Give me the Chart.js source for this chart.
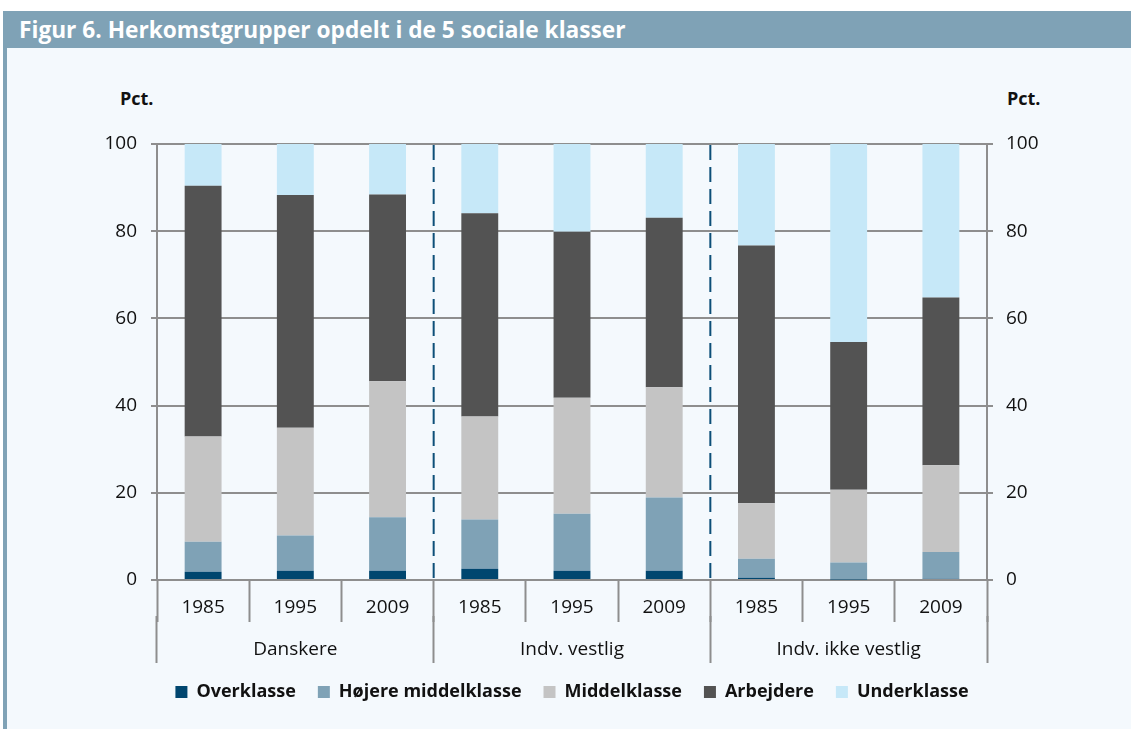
<!DOCTYPE html>
<html>
<head>
<meta charset="utf-8">
<script src="https://cdn.jsdelivr.net/npm/chart.js@4.4.1/dist/chart.umd.min.js"></script>
<style>
    body { margin: 0; background: #ffffff; font-family: "Open Sans", sans-serif; }
    .title-bar {
        position: absolute; left: 3px; top: 11px; right: 0; height: 37px;
        background: #7fa2b6; color: #ffffff; font-weight: bold; font-size: 22.7px;
        line-height: 37px; padding-left: 16px; box-sizing: border-box; white-space: nowrap;
    }
    .panel {
        position: absolute; left: 3px; top: 48px; right: 0; bottom: 0;
        background: #f4f9fd; border-left: 4px solid #7fa2b6;
    }
    .chart-box { position: absolute; left: 7px; top: 48px; width: 1124px; height: 681px; }
    .unit { position: absolute; top: 86px; font-weight: bold; font-size: 18px; color: #111; }
</style>
</head>
<body>
<div class="title-bar">Figur 6. Herkomstgrupper opdelt i de 5 sociale klasser</div>
<div class="panel"></div>
<div class="unit" style="left:120px">Pct.</div>
<div class="unit" style="left:1007px">Pct.</div>
<div class="chart-box"><canvas id="klasseChart"></canvas></div>

<script>
// Data (pct.)
const years = ['1985', '1995', '2009', '1985', '1995', '2009', '1985', '1995', '2009'];
const groups = ['Danskere', 'Indv. vestlig', 'Indv. ikke vestlig'];
const yTicks = [0, 20, 40, 60, 80, 100];

const overklasse = [1.9, 2.1, 2.1, 2.6, 2.1, 2.1, 0.5, 0.1, 0.3];
const hojereMiddel = [6.9, 8.1, 12.3, 11.3, 13.1, 16.8, 4.4, 3.9, 6.1];
const middelklasse = [24.1, 24.7, 31.2, 23.6, 26.6, 25.3, 12.7, 16.7, 19.9];
const arbejdere = [57.5, 53.4, 42.8, 46.6, 38.1, 38.9, 59.1, 33.9, 38.5];
const underklasse = [9.6, 11.7, 11.6, 15.9, 20.1, 16.9, 23.3, 45.4, 35.2];

const gridGrey = '#8e8e8e';
const tickFont = { family: 'Open Sans', size: 19 };

// dashed separators between the three origin groups
const groupSeparators = {
    id: 'groupSeparators',
    beforeDatasetsDraw(chart) {
        const x = chart.scales.x;
        const area = chart.chartArea;
        const ctx = chart.ctx;
        ctx.save();
        ctx.strokeStyle = '#0d4f78';
        ctx.lineWidth = 2;
        ctx.setLineDash([15, 7]);
        for (let g = 1; g < groups.length; g++) {
            const i = g * 3;
            const px = (x.getPixelForValue(i - 1) + x.getPixelForValue(i)) / 2;
            ctx.beginPath();
            ctx.moveTo(px, area.top + 1);
            ctx.lineTo(px, area.bottom);
            ctx.stroke();
        }
        ctx.restore();
    }
};

const ctx = document.getElementById('klasseChart').getContext('2d');
const klasseChart = new Chart(ctx, {
    type: 'bar',
    data: {
        labels: years,
        datasets: [
            { label: 'Overklasse', data: overklasse, backgroundColor: '#00466f' },
            { label: 'Højere middelklasse', data: hojereMiddel, backgroundColor: '#7fa2b6' },
            { label: 'Middelklasse', data: middelklasse, backgroundColor: '#c4c4c4' },
            { label: 'Arbejdere', data: arbejdere, backgroundColor: '#535353' },
            { label: 'Underklasse', data: underklasse, backgroundColor: '#c6e8f8' }
        ]
    },
    options: {
        responsive: true,
        maintainAspectRatio: false,
        animation: false,
        categoryPercentage: 1,
        barPercentage: 0.4,
        borderWidth: 0,
        layout: { padding: { left: 90, right: 84, top: 96, bottom: 18 } },
        plugins: {
            tooltip: { enabled: false },
            legend: {
                position: 'bottom',
                labels: {
                    boxWidth: 12,
                    boxHeight: 12,
                    padding: 22,
                    color: '#111',
                    font: { family: 'Open Sans', size: 18, weight: 'bold' }
                }
            }
        },
        scales: {
            x: {
                stacked: true,
                offset: true,
                grid: { offset: true, drawOnChartArea: false, tickLength: 42, tickColor: gridGrey, tickWidth: 2 },
                border: { display: false },
                ticks: { color: '#111', font: tickFont, padding: -26, maxRotation: 0 },
                afterFit(scale) { scale.height = 36; }
            },
            x2: {
                type: 'category',
                labels: groups,
                position: 'bottom',
                offset: true,
                grid: { offset: true, drawOnChartArea: false, tickLength: 47, tickColor: gridGrey, tickWidth: 2 },
                border: { display: false },
                ticks: { color: '#111', font: tickFont, padding: -25, maxRotation: 0 },
                afterFit(scale) { scale.height = 45; }
            },
            y: {
                stacked: true,
                min: 0,
                max: 100,
                afterBuildTicks(scale) { scale.ticks = yTicks.map(v => ({ value: v })); },
                grid: { color: gridGrey, lineWidth: 2, tickLength: 6 },
                border: { color: gridGrey, width: 2 },
                ticks: { color: '#111', font: tickFont, padding: 14 },
                afterFit(scale) { scale.width = 60; }
            },
            y2: {
                position: 'right',
                min: 0,
                max: 100,
                afterBuildTicks(scale) { scale.ticks = yTicks.map(v => ({ value: v })); },
                grid: { drawOnChartArea: false, color: gridGrey, lineWidth: 2, tickLength: 6 },
                border: { color: gridGrey, width: 2 },
                ticks: { color: '#111', font: tickFont, padding: 13 },
                afterFit(scale) { scale.width = 60; }
            }
        }
    },
    plugins: [groupSeparators]
});
</script>
</body>
</html>
